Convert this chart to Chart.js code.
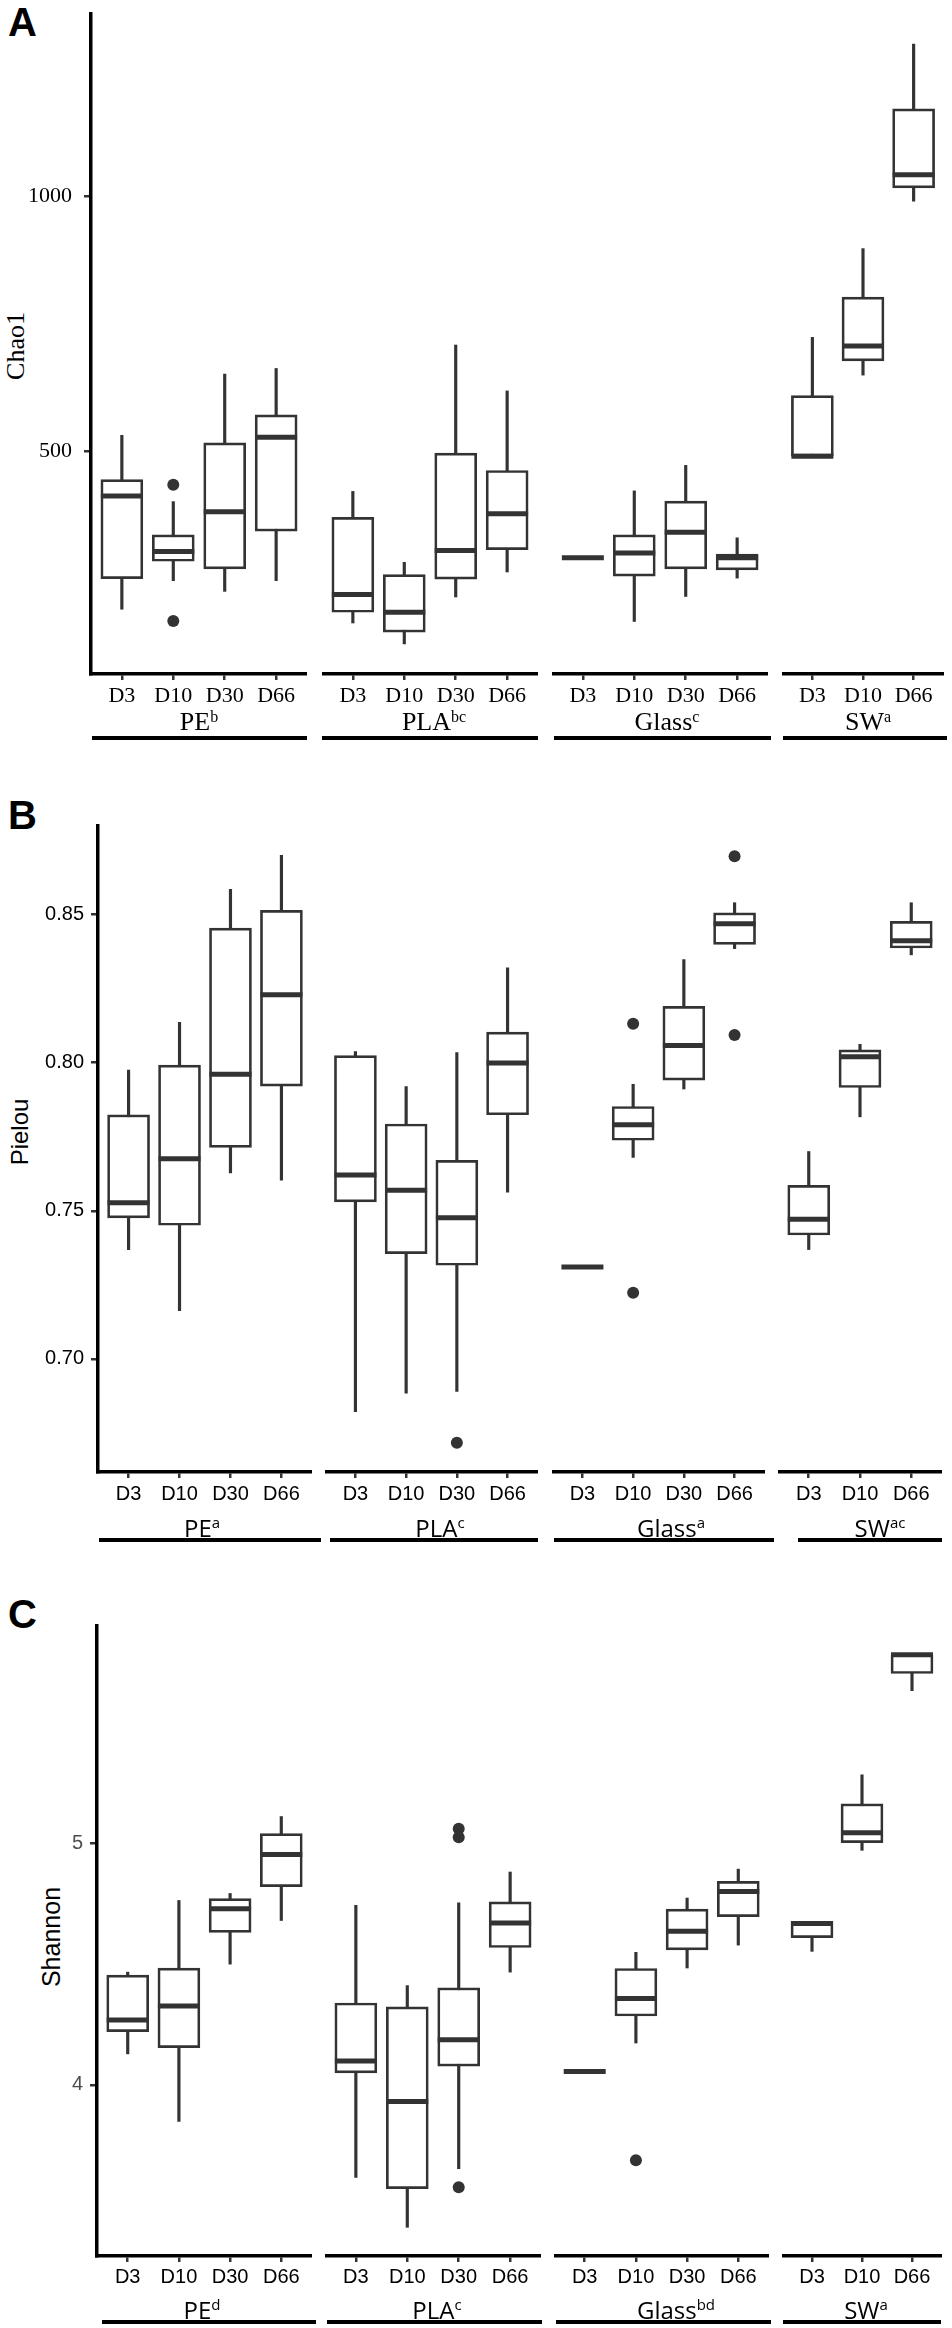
<!DOCTYPE html>
<html>
<head>
<meta charset="utf-8">
<script src="https://cdn.jsdelivr.net/npm/chart.js@4.4.1/dist/chart.umd.min.js"></script>
<style>
  html, body { margin: 0; padding: 0; background: #fff; }
  body { width: 952px; height: 2328px; position: relative; overflow: hidden; }
  canvas.cv { position: absolute; }
  .letter { position: absolute; font-family: 'Liberation Sans', Arial, sans-serif; font-weight: bold; font-size: 40px; line-height: 1; color: #000; }
  .ytitle { position: absolute; white-space: nowrap; line-height: 1; color: #000; transform: translate(-50%, -50%) rotate(-90deg); }
  .strip { position: absolute; white-space: nowrap; transform: translate(-50%, -50%); line-height: 1; color: #000; }
  .serif { font-family: 'Liberation Serif', 'Times New Roman', serif; }
  .strip.serif { font-size: 26px; }
  .strip.sans { font-family: 'Open Sans', 'Liberation Sans', sans-serif; font-size: 24px; }
  .strip .sup { position: relative; }
  .strip.serif .sup { font-size: 16px; top: -8px; }
  .strip.sans .sup { font-size: 15px; top: -9px; }
  .sline { position: absolute; height: 3.5px; background: #000; }
</style>
</head>
<body>
<script>
// ---------------- DATA ----------------
const materials = ['PE', 'PLA', 'Glass', 'SW'];
const days = ['D3', 'D10', 'D30', 'D66'];
const daysSW = ['D3', 'D10', 'D66'];

// order of the 15 boxes: PE D3..D66, PLA D3..D66, Glass D3..D66, SW D3, D10, D66
// Chao1
const chao1Low    = [191, 247, 226, 247,  164, 123, 215, 264,  292, 167, 216, 252,  491, 650, 991];
const chao1Q1     = [251, 285, 270, 344,  185, 146, 250, 308,  292, 256, 270, 268,  491, 678, 1017];
const chao1Median = [413, 304, 382, 528,  220, 185, 306, 378,  292, 301, 342, 292,  491, 707, 1043];
const chao1Q3     = [445, 337, 517, 572,  371, 259, 497, 463,  292, 337, 403, 299,  610, 803, 1172];
const chao1High   = [532, 402, 652, 663,  422, 283, 709, 619,  292, 423, 473, 331,  724, 898, 1299];
const chao1Outliers = [[], [435, 168], [], [],  [], [], [], [],  [], [], [], [],  [], [], []];
const chao1Letters = ['b', 'bc', 'c', 'a'];
const chao1Ticks = [500, 1000];
const chao1Limits = [64, 1358];

// Pielou
const pielouLow    = [0.7369, 0.7163, 0.7628, 0.7603,  0.6822, 0.6884, 0.6890, 0.7563,  0.7310, 0.7680, 0.7911, 0.8385,  0.7369, 0.7817, 0.8364];
const pielouQ1     = [0.7476, 0.7451, 0.7714, 0.7921,  0.7530, 0.7355, 0.7316, 0.7824,  0.7310, 0.7738, 0.7941, 0.8399,  0.7418, 0.7916, 0.8387];
const pielouMedian = [0.7527, 0.7676, 0.7961, 0.8229,  0.7621, 0.7569, 0.7476, 0.7999,  0.7310, 0.7790, 0.8058, 0.8469,  0.7471, 0.8020, 0.8412];
const pielouQ3     = [0.7824, 0.7992, 0.8454, 0.8514,  0.8024, 0.7793, 0.7670, 0.8103,  0.7310, 0.7852, 0.8190, 0.8506,  0.7586, 0.8043, 0.8477];
const pielouHigh   = [0.7975, 0.8136, 0.8585, 0.8700,  0.8037, 0.7919, 0.8034, 0.8320,  0.7310, 0.7927, 0.8348, 0.8540,  0.7700, 0.8062, 0.8540];
const pielouOutliers = [[], [], [], [],  [], [], [0.6717], [],  [], [0.8131, 0.7223], [], [0.8697, 0.8093],  [], [], []];
const pielouLetters = ['a', 'c', 'a', 'ac'];
const pielouTicks = [0.70, 0.75, 0.80, 0.85];
const pielouLimits = [0.6618, 0.8799];

// Shannon
const shannonLow    = [4.128, 3.848, 4.500, 4.681,  3.616, 3.409, 3.652, 4.467,  4.055, 4.173, 4.484, 4.579,  4.553, 4.972, 5.634];
const shannonQ1     = [4.220, 4.154, 4.632, 4.821,  4.049, 3.569, 4.077, 4.569,  4.055, 4.285, 4.559, 4.697,  4.610, 5.004, 5.705];
const shannonMedian = [4.268, 4.327, 4.730, 4.955,  4.098, 3.931, 4.187, 4.671,  4.055, 4.358, 4.636, 4.801,  4.669, 5.045, 5.783];
const shannonQ3     = [4.455, 4.484, 4.772, 5.041,  4.339, 4.323, 4.402, 4.758,  4.055, 4.482, 4.728, 4.843,  4.677, 5.165, 5.783];
const shannonHigh   = [4.467, 4.764, 4.793, 5.112,  4.744, 4.411, 4.754, 4.882,  4.055, 4.549, 4.774, 4.894,  4.677, 5.285, 5.783];
const shannonOutliers = [[], [], [], [],  [], [], [5.061, 5.026, 3.575], [],  [], [3.687], [], [],  [], [], []];
const shannonLetters = ['d', 'c', 'bd', 'a'];
const shannonTicks = [4, 5];
const shannonLimits = [3.290, 5.902];

// ---------------- LAYOUT (positions / styles only) ----------------
const serif = "'Liberation Serif', 'Times New Roman', serif";
const sans = "'Liberation Sans', Arial, sans-serif";
const rows = [
  { letter: 'A', letterTop: 2, title: 'Chao1', low: chao1Low, q1: chao1Q1, med: chao1Median, q3: chao1Q3, high: chao1High,
    out: chao1Outliers, letters: chao1Letters, ticks: chao1Ticks, limits: chao1Limits, fmt: v => String(v),
    top: 14, bottom: 674, facets: [[91, 307], [322, 538], [552, 768], [782, 944]],
    stripY: 722, lineY: 738, lines: [[92, 307], [322, 538], [554, 771], [783, 947]], labelX: [199, 434, 667, 868],
    tickFont: { family: serif, size: 22 }, yTickColor: '#000', yPad: 12,
    titleCss: { fontFamily: serif, fontSize: '26px' }, titleX: 16, titleY: 346,
    stripClass: 'serif', xPad: 3 },
  { letter: 'B', letterTop: 795, title: 'Pielou', low: pielouLow, q1: pielouQ1, med: pielouMedian, q3: pielouQ3, high: pielouHigh,
    out: pielouOutliers, letters: pielouLetters, ticks: pielouTicks, limits: pielouLimits, fmt: v => v.toFixed(2),
    top: 826, bottom: 1472, facets: [[98, 312], [325, 538], [552, 765], [778, 942]],
    stripY: 1528, lineY: 1540, lines: [[99, 321], [330, 538], [554, 774], [798, 942]], labelX: [202, 440, 671, 880],
    tickFont: { family: sans, size: 20 }, yTickColor: '#000', yPad: 7,
    titleCss: { fontFamily: sans, fontSize: '24px' }, titleX: 20, titleY: 1132,
    stripClass: 'sans', xPad: 4 },
  { letter: 'C', letterTop: 1594, title: 'Shannon', low: shannonLow, q1: shannonQ1, med: shannonMedian, q3: shannonQ3, high: shannonHigh,
    out: shannonOutliers, letters: shannonLetters, ticks: shannonTicks, limits: shannonLimits, fmt: v => String(v),
    top: 1626, bottom: 2256, facets: [[97, 312], [325, 541], [554, 769], [782, 942]],
    stripY: 2310, lineY: 2322, lines: [[102, 316], [327, 542], [556, 771], [783, 941]], labelX: [202, 437, 676, 866],
    tickFont: { family: sans, size: 20 }, yTickColor: '#4d4d4d', yPad: 7,
    titleCss: { fontFamily: sans, fontSize: '25px' }, titleX: 51, titleY: 1937,
    stripClass: 'sans', xPad: 3 }
];

const INK = '#333333';
const PAD_TOP = 6;
const X_AXIS_H = 48;

function facetCats(f) { return f === 3 ? daysSW : days; }

function buildFacet(row, f) {
  const [x0, x1] = row.facets[f];
  const first = f === 0;
  const cats = facetCats(f);
  const start = f * 4;
  const n = cats.length;
  const canvasLeft = first ? 0 : x0;
  const width = x1 - canvasLeft;
  const height = PAD_TOP + (row.bottom - row.top) + X_AXIS_H;

  const canvas = document.createElement('canvas');
  canvas.className = 'cv';
  canvas.width = width;
  canvas.height = height;
  canvas.style.left = canvasLeft + 'px';
  canvas.style.top = (row.top - PAD_TOP) + 'px';
  canvas.style.width = width + 'px';
  canvas.style.height = height + 'px';
  document.body.appendChild(canvas);

  const whiskers = [], boxes = [], medians = [], outliers = [];
  cats.forEach((c, i) => {
    const k = start + i;
    whiskers.push({ x: i + 1, y: [row.low[k], row.high[k]] });
    boxes.push({ x: i + 1, y: [row.q1[k], row.q3[k]] });
    medians.push({ x: i + 1, y: row.med[k] });
    row.out[k].forEach(v => outliers.push({ x: i + 1, y: v }));
  });

  const gridOpts = { display: true, drawOnChartArea: false, drawTicks: true, tickLength: 7, tickWidth: 2.5,
    tickColor: INK, color: INK, lineWidth: 2.5, offset: false };
  const borderOpts = { display: true, color: '#000', width: 3.5 };

  new Chart(canvas, {
    type: 'bar',
    data: {
      datasets: [
        { type: 'bar', data: whiskers, barThickness: 2.5, grouped: false, backgroundColor: INK, borderWidth: 0, order: 4 },
        { type: 'bar', data: boxes, barThickness: 42, grouped: false, backgroundColor: '#ffffff', borderColor: INK,
          borderWidth: 2.7, borderSkipped: false, order: 3 },
        { type: 'line', data: medians, showLine: false, pointStyle: 'line', pointRadius: 21, pointBorderWidth: 5,
          pointBorderColor: INK, borderColor: INK, order: 2 },
        { type: 'line', data: outliers, showLine: false, pointStyle: 'circle', pointRadius: 6, pointBorderWidth: 0,
          pointBackgroundColor: INK, borderColor: INK, order: 1 }
      ]
    },
    options: {
      responsive: false, maintainAspectRatio: false, animation: false, events: [], devicePixelRatio: 1,
      layout: { autoPadding: false, padding: { top: PAD_TOP, left: 0, right: 0, bottom: 0 } },
      plugins: { legend: { display: false }, tooltip: { enabled: false } },
      scales: {
        x: {
          type: 'linear', min: 0.4, max: n + 0.6, offset: false,
          afterBuildTicks: s => { s.ticks = cats.map((c, i) => ({ value: i + 1 })); },
          afterFit: s => { s.height = X_AXIS_H; s.paddingLeft = 0; s.paddingRight = 0; s.paddingTop = 0; s.paddingBottom = 0; },
          ticks: { callback: v => cats[Math.round(v) - 1] || '', autoSkip: false, maxRotation: 0, minRotation: 0,
            padding: row.xPad, font: row.tickFont, color: '#000' },
          grid: Object.assign({}, gridOpts, { tickLength: 6 }),
          border: borderOpts
        },
        y: {
          type: 'linear', display: first, min: row.limits[0], max: row.limits[1],
          afterBuildTicks: s => { s.ticks = row.ticks.map(v => ({ value: v })); },
          afterFit: s => { s.width = first ? x0 : 0; s.paddingLeft = 0; s.paddingRight = 0; s.paddingTop = 0; s.paddingBottom = 0; },
          ticks: { callback: v => row.fmt(v), padding: row.yPad, font: row.tickFont, color: row.yTickColor },
          grid: gridOpts,
          border: borderOpts,
          title: { display: false }
        }
      }
    }
  });
}

rows.forEach(row => {
  const L = document.createElement('div');
  L.className = 'letter';
  L.textContent = row.letter;
  L.style.left = '8px';
  L.style.top = row.letterTop + 'px';
  document.body.appendChild(L);

  const T = document.createElement('div');
  T.className = 'ytitle';
  T.textContent = row.title;
  Object.assign(T.style, row.titleCss);
  T.style.left = row.titleX + 'px';
  T.style.top = row.titleY + 'px';
  document.body.appendChild(T);

  materials.forEach((m, f) => {
    buildFacet(row, f);
    const s = document.createElement('div');
    s.className = 'strip ' + row.stripClass;
    s.style.left = row.labelX[f] + 'px';
    s.style.top = row.stripY + 'px';
    s.innerHTML = m + '<span class="sup">' + row.letters[f] + '</span>';
    document.body.appendChild(s);

    const ln = document.createElement('div');
    ln.className = 'sline';
    ln.style.left = row.lines[f][0] + 'px';
    ln.style.width = (row.lines[f][1] - row.lines[f][0]) + 'px';
    ln.style.top = (row.lineY - 1.75) + 'px';
    document.body.appendChild(ln);
  });
});
</script>
</body>
</html>
